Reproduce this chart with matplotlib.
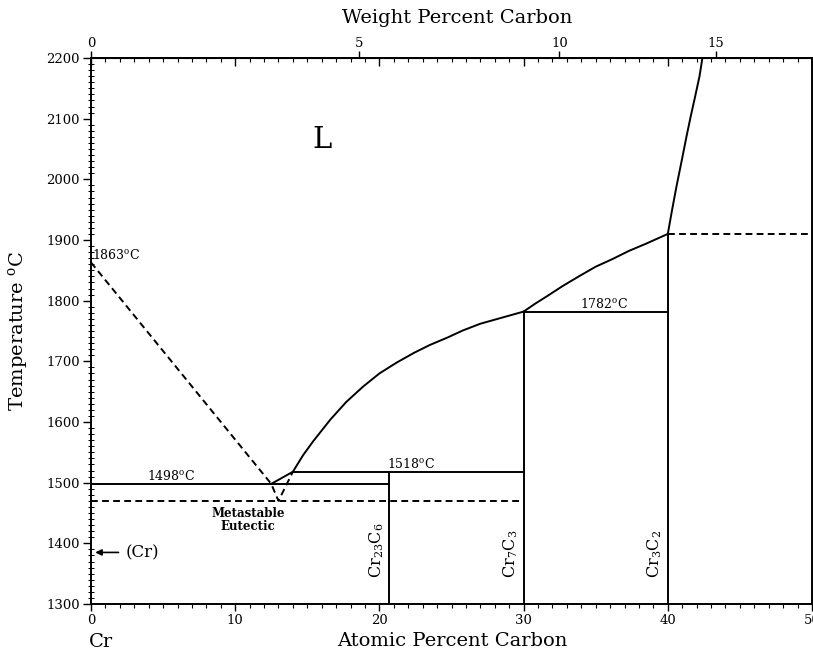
import numpy as np
import matplotlib.pyplot as plt
from matplotlib.ticker import MultipleLocator, FixedLocator, NullFormatter

plt.rcParams['font.family'] = 'DejaVu Serif'
plt.rcParams['mathtext.fontset'] = 'dejavuserif'

# liquidus lines, atomic percent C vs temperature (C)
liq_dash_x = [0, 12.5, 13.0, 14.0]
liq_dash_t = [1863, 1498, 1470, 1518]
liq1_x = [12.5, 14.0, 14.7, 15.4, 16.6, 17.7, 18.9, 20.0, 21.2, 22.4, 23.5, 24.7, 25.8, 27.0, 28.5, 30.0]
liq1_t = [1498, 1518, 1545, 1568, 1604, 1633, 1659, 1680, 1698, 1714, 1727, 1739, 1751, 1762, 1772, 1782]
liq2_x = [30.0, 30.8, 31.6, 32.7, 33.9, 35.0, 36.2, 37.3, 38.5, 40.0]
liq2_t = [1782, 1795, 1807, 1824, 1841, 1856, 1869, 1882, 1894, 1910]
liq3_x = [40.0, 40.3, 40.6, 41.0, 41.3, 41.6, 41.9, 42.2, 42.4]
liq3_t = [1910, 1950, 1988, 2035, 2071, 2105, 2137, 2170, 2200]

# invariant lines: (x start, x end, temperature)
solid_lines = [(0, 20.7, 1498), (14.0, 30.0, 1518), (30.0, 40.0, 1782)]
dashed_lines = [(0, 30.0, 1470), (40.0, 50.0, 1910)]

# carbides
compounds = ['Cr$_{23}$C$_6$', 'Cr$_7$C$_3$', 'Cr$_3$C$_2$']
comp_x = [20.7, 30.0, 40.0]
comp_top = [1518, 1782, 1910]

# temperature labels
inv_temps = [1863, 1498, 1518, 1782]
inv_label_x = [0.1, 3.9, 20.5, 33.9]

wt_ticks = [0, 5, 10, 15]


def at2wt(a):
    a = np.asarray(a, dtype=float)
    with np.errstate(divide='ignore', invalid='ignore'):
        return 100 * 12.011 * a / (12.011 * a + 51.996 * (100 - a))


def wt2at(w):
    w = np.asarray(w, dtype=float)
    with np.errstate(divide='ignore', invalid='ignore'):
        return 100 * (w / 12.011) / (w / 12.011 + (100 - w) / 51.996)


fig = plt.figure(figsize=(8.13, 6.52), dpi=100)
ax = fig.add_axes([91 / 813, 48 / 652, 721 / 813, 546 / 652])

lw = 1.4
dash = (0, (3.5, 2.2))
ax.plot(liq_dash_x, liq_dash_t, color='k', lw=lw, ls=dash)
for xs, ts in [(liq1_x, liq1_t), (liq2_x, liq2_t), (liq3_x, liq3_t)]:
    ax.plot(xs, ts, color='k', lw=lw, solid_joinstyle='round')
for x0, x1, t in solid_lines:
    ax.plot([x0, x1], [t, t], color='k', lw=lw)
for x0, x1, t in dashed_lines:
    ax.plot([x0, x1], [t, t], color='k', lw=lw, ls=dash)
for name, x, top in zip(compounds, comp_x, comp_top):
    ax.plot([x, x], [1300, top], color='k', lw=lw)
    ax.text(x - 0.25, 1343, name, rotation=90, ha='right', va='bottom', fontsize=11.5)

for t, x in zip(inv_temps, inv_label_x):
    ax.text(x, t + 1, '%d$^{\\rm o}$C' % t, ha='left', va='bottom', fontsize=9)

ax.text(16.0, 2065, 'L', fontsize=21, ha='center', va='center')
ax.text(10.9, 1439, 'Metastable\nEutectic', fontsize=8.5, fontweight='bold',
        ha='center', va='center', linespacing=1.0)
ax.annotate('', xy=(0.1, 1385), xytext=(2.1, 1385),
            arrowprops=dict(arrowstyle='-|>', color='k', lw=1.2, mutation_scale=9))
ax.text(2.4, 1385, '(Cr)', fontsize=12, ha='left', va='center')

ax.set_xlim(0, 50)
ax.set_ylim(1300, 2200)
for s in ax.spines.values():
    s.set_linewidth(1.4)

ax.xaxis.set_major_locator(MultipleLocator(10))
ax.xaxis.set_minor_locator(MultipleLocator(1))
ax.yaxis.set_major_locator(MultipleLocator(100))
ax.yaxis.set_minor_locator(MultipleLocator(10))
ax.tick_params(axis='x', which='major', direction='out', length=5, width=1, labelsize=9.5, pad=2)
ax.tick_params(axis='x', which='minor', direction='out', length=3, width=0.8)
ax.tick_params(axis='y', which='major', direction='out', length=6, width=1, labelsize=9.5, pad=2)
ax.tick_params(axis='y', which='minor', direction='inout', length=4, width=0.7)
ax.set_ylabel('Temperature $^{\\rm o}$C', fontsize=14, labelpad=12)

# top axis: weight percent carbon
top = ax.secondary_xaxis('top', functions=(at2wt, wt2at))
top.xaxis.set_major_locator(FixedLocator(wt_ticks))
top.xaxis.set_minor_locator(FixedLocator([]))
top.tick_params(axis='x', which='major', direction='out', length=5, width=1, labelsize=9.5, pad=1)
top.spines['top'].set_linewidth(1.4)

# inward atomic percent ticks along the top
top2 = ax.secondary_xaxis('top')
top2.xaxis.set_major_locator(MultipleLocator(10))
top2.xaxis.set_minor_locator(MultipleLocator(1))
top2.xaxis.set_major_formatter(NullFormatter())
top2.tick_params(axis='x', which='major', direction='in', length=6, width=1)
top2.tick_params(axis='x', which='minor', direction='in', length=3, width=0.8)

fig.text(457 / 813, (652 - 18) / 652, 'Weight Percent Carbon', fontsize=14, ha='center', va='center')
fig.text(452 / 813, (652 - 641) / 652, 'Atomic Percent Carbon', fontsize=14, ha='center', va='center')
fig.text(89 / 813, (652 - 642) / 652, 'Cr', fontsize=14, ha='left', va='center')

fig.savefig('out.png', dpi=100)
